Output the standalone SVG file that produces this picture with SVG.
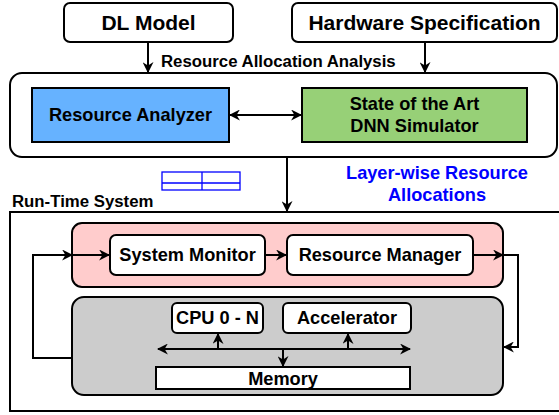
<svg xmlns="http://www.w3.org/2000/svg" width="559" height="415" viewBox="0 0 559 415">
<style>
text{font-family:"Liberation Sans",Arial,sans-serif;font-weight:bold;fill:#000;text-anchor:middle}
.big{font-size:21px}
.md{font-size:18.2px}
.sm{font-size:16.8px}
.box{stroke:#000;stroke-width:2}
.ln{fill:none;stroke:#000;stroke-width:2}
</style>
<defs>
<marker id="a" viewBox="0 0 10 10" refX="9" refY="5" markerWidth="11" markerHeight="11" orient="auto-start-reverse" markerUnits="userSpaceOnUse">
<path d="M0,0 L10,5 L0,10 L3,5 z" fill="#000"/>
</marker>
</defs>
<rect width="559" height="415" fill="#fff"/>

<g id="dl-model">
<rect class="box" x="64" y="3" width="169" height="39" rx="6" fill="#fff"/>
<text class="big" x="148.5" y="30">DL Model</text>
</g>
<g id="hardware-spec">
<rect class="box" x="292" y="3" width="265" height="39" rx="6" fill="#fff"/>
<text class="big" x="424.5" y="30">Hardware Specification</text>
</g>

<g id="analysis">
<rect class="box" x="10" y="73" width="547" height="84" rx="12" fill="#fff"/>
</g>
<g id="resource-analyzer">
<rect class="box" x="32" y="88" width="197" height="54" fill="#66B2FF"/>
<text class="md" x="130.5" y="121">Resource Analyzer</text>
</g>
<g id="dnn-simulator">
<rect class="box" x="302" y="88" width="225" height="54" fill="#97D077"/>
<text class="md" x="414.5" y="110">State of the Art</text>
<text class="md" x="414.5" y="132">DNN Simulator</text>
</g>

<g id="table">
<rect x="162" y="172" width="78" height="18" fill="none" stroke="#0000FF" stroke-width="1.3"/>
<line x1="162" y1="183" x2="240" y2="183" stroke="#0000FF" stroke-width="1.3"/>
<line x1="202" y1="172" x2="202" y2="190" stroke="#0000FF" stroke-width="1.3"/>
</g>

<g id="runtime-system">
<rect class="box" x="10" y="212" width="555" height="199" fill="#fff"/>
</g>
<g id="control-group">
<rect class="box" x="72" y="223" width="431" height="64" rx="10" fill="#FFCCCC"/>
</g>
<g id="system-monitor">
<rect class="box" x="110" y="235" width="155" height="40" rx="6" fill="#fff"/>
<text class="md" x="187.5" y="261">System Monitor</text>
</g>
<g id="resource-manager">
<rect class="box" x="287" y="235" width="186" height="40" rx="6" fill="#fff"/>
<text class="md" x="380" y="261">Resource Manager</text>
</g>
<g id="hardware-group">
<rect class="box" x="72" y="297" width="431" height="98" rx="12" fill="#CCCCCC"/>
</g>
<g id="cpu">
<rect class="box" x="172" y="303" width="91" height="30" rx="5" fill="#fff"/>
<text class="md" x="217.5" y="324">CPU 0 - N</text>
</g>
<g id="accelerator">
<rect class="box" x="283" y="303" width="128" height="30" rx="5" fill="#fff"/>
<text class="md" x="347" y="324">Accelerator</text>
</g>
<g id="memory">
<rect class="box" x="156" y="367" width="254" height="22" fill="#fff"/>
<text class="md" x="283" y="385">Memory</text>
</g>

<g id="labels">
<text class="sm" x="161" y="67" style="text-anchor:start">Resource Allocation Analysis</text>
<text class="md" x="437" y="179" style="fill:#0000FF">Layer-wise Resource</text>
<text class="md" x="437" y="201" style="fill:#0000FF">Allocations</text>
<text class="sm" x="12" y="207" style="text-anchor:start">Run-Time System</text>
</g>

<g id="connectors">
<line class="ln" x1="148" y1="42" x2="148" y2="72" marker-end="url(#a)"/>
<line class="ln" x1="425" y1="42" x2="425" y2="72" marker-end="url(#a)"/>
<line class="ln" x1="230" y1="115" x2="301" y2="115" marker-start="url(#a)" marker-end="url(#a)"/>
<line class="ln" x1="287" y1="157" x2="287" y2="211" marker-end="url(#a)"/>
<polyline class="ln" points="72,358 33,358 33,255 72,255" marker-end="url(#a)"/>
<line class="ln" x1="72" y1="255" x2="109" y2="255" marker-end="url(#a)"/>
<line class="ln" x1="265" y1="255" x2="286" y2="255" marker-end="url(#a)"/>
<line class="ln" x1="473" y1="255" x2="503" y2="255" marker-end="url(#a)"/>
<polyline class="ln" points="503,255 518,255 518,347 504,347" marker-end="url(#a)"/>
<line class="ln" x1="158" y1="349" x2="410" y2="349" marker-start="url(#a)" marker-end="url(#a)"/>
<line class="ln" x1="218" y1="349" x2="218" y2="334" marker-end="url(#a)"/>
<line class="ln" x1="348" y1="349" x2="348" y2="334" marker-end="url(#a)"/>
<line class="ln" x1="283" y1="349" x2="283" y2="366" marker-end="url(#a)"/>
</g>
</svg>
